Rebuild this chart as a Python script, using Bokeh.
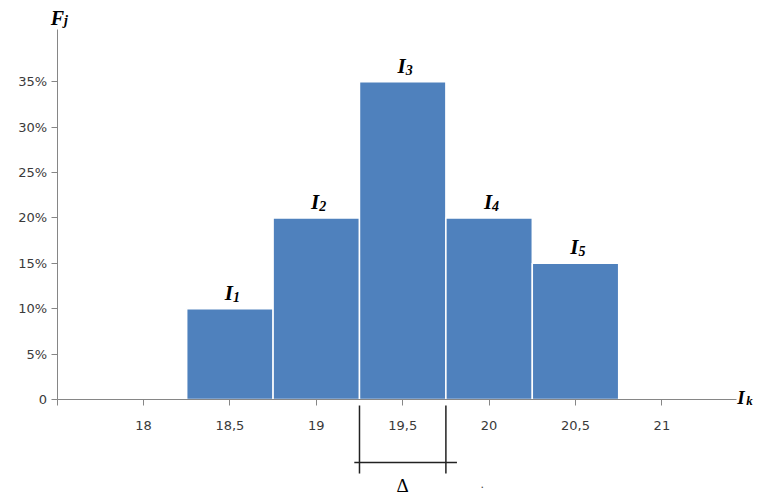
from bokeh.plotting import figure
from bokeh.models import ColumnDataSource, LinearAxis, FixedTicker, Range1d
from bokeh.core.properties import value
from bokeh.embed import file_html
from bokeh.resources import INLINE

# Histogram of relative frequencies F_j over the intervals I_1..I_5
interval_centers = [18.5, 19.0, 19.5, 20.0, 20.5]
frequencies = [0.10, 0.20, 0.35, 0.20, 0.15]
interval_names = ["I", "I", "I", "I", "I"]
interval_indices = ["1", "2", "3", "4", "5"]
bin_width = 0.5

x_ticks = [17.5, 18.0, 18.5, 19.0, 19.5, 20.0, 20.5, 21.0]
x_tick_labels = ["", "18", "18,5", "19", "19,5", "20", "20,5", "21"]
y_ticks = [0.0, 0.05, 0.10, 0.15, 0.20, 0.25, 0.30, 0.35]
y_tick_labels = ["0", "5%", "10%", "15%", "20%", "25%", "30%", "35%"]

# axis extents (the drawn axis lines)
x_axis_bounds = (17.5, 21.43)
y_axis_bounds = (0.0, 0.407)

AXIS_GREY = "#868686"
LABEL_GREY = "#3a3a3a"
BAR_BLUE = "#4F81BD"
SERIF = value("Liberation Serif")

p = figure(
    width=757, height=496,
    x_range=Range1d(17.1725, 21.5533),
    y_range=Range1d(-0.1068, 0.4394),
    x_axis_location=None, y_axis_location=None,
    min_border=0, outline_line_color=None,
    toolbar_location=None, output_backend="svg",
)
p.grid.visible = False
p.background_fill_color = "white"
p.border_fill_color = "white"

# axes crossing at (17.5, 0)
xaxis = LinearAxis(
    fixed_location=0.0, bounds=x_axis_bounds,
    ticker=FixedTicker(ticks=x_ticks),
    major_label_overrides={t: s for t, s in zip(x_ticks, x_tick_labels)},
)
yaxis = LinearAxis(
    fixed_location=x_ticks[0], bounds=y_axis_bounds,
    ticker=FixedTicker(ticks=y_ticks),
    major_label_overrides={t: s for t, s in zip(y_ticks, y_tick_labels)},
)
for ax in (xaxis, yaxis):
    ax.axis_line_color = AXIS_GREY
    ax.axis_line_width = 1
    ax.major_tick_line_color = AXIS_GREY
    ax.major_tick_in = 0
    ax.major_tick_out = 6
    ax.minor_tick_line_color = None
    ax.major_label_text_font = "DejaVu Sans"
    ax.major_label_text_font_size = "13px"
    ax.major_label_text_color = LABEL_GREY
xaxis.major_label_standoff = 15
yaxis.major_label_standoff = 4
p.add_layout(xaxis, "below")
p.add_layout(yaxis, "left")

# bars
bars = ColumnDataSource(dict(x=interval_centers, top=frequencies,
                             name=interval_names, idx=interval_indices))
p.vbar(x="x", top="top", bottom=0, width=bin_width, source=bars,
       fill_color=BAR_BLUE, line_color="white", line_width=1.5)

# interval labels I_j above each bar
p.text(x="x", y="top", text="name", source=bars,
       text_font=SERIF, text_font_style="bold italic", text_font_size="21px",
       text_color="black", text_align="right", text_baseline="alphabetic",
       x_offset=3, y_offset=-16)
p.text(x="x", y="top", text="idx", source=bars,
       text_font=SERIF, text_font_style="bold italic", text_font_size="14px",
       text_color="black", text_align="left", text_baseline="alphabetic",
       x_offset=3, y_offset=-12)

# axis titles F_j and I_k
p.text(x=[x_ticks[0]], y=[y_axis_bounds[1]], text=["F"],
       text_font=SERIF, text_font_style="bold italic", text_font_size="20px",
       text_color="black", text_align="right", text_baseline="alphabetic",
       x_offset=7, y_offset=-12)
p.text(x=[x_ticks[0]], y=[y_axis_bounds[1]], text=["j"],
       text_font=SERIF, text_font_style="bold italic", text_font_size="14px",
       text_color="black", text_align="left", text_baseline="alphabetic",
       x_offset=7, y_offset=-9)
p.text(x=[x_axis_bounds[1]], y=[0.0], text=["I"],
       text_font=SERIF, text_font_style="bold italic", text_font_size="19px",
       text_color="black", text_align="left", text_baseline="alphabetic",
       x_offset=1, y_offset=-2)
p.text(x=[x_axis_bounds[1]], y=[0.0], text=["k"],
       text_font=SERIF, text_font_style="bold italic", text_font_size="13px",
       text_color="black", text_align="left", text_baseline="alphabetic",
       x_offset=10, y_offset=1)

# bracket marking the interval width Δ under the middle bar
mid = interval_centers[2]
d_left, d_right = mid - bin_width / 2, mid + bin_width / 2
p.segment(x0=[d_left, d_right, d_left - 0.03],
          y0=[-0.0066, -0.0066, -0.0694],
          x1=[d_left, d_right, d_right + 0.064],
          y1=[-0.0815, -0.0815, -0.0694],
          line_color="#222222", line_width=1.5)
p.text(x=[mid], y=[0.0], text=["Δ"],
       text_font=SERIF, text_font_size="19px", text_color="black",
       text_align="center", text_baseline="middle", y_offset=86)
p.text(x=[19.96], y=[0.0], text=["."],
       text_font=SERIF, text_font_size="12px", text_color="#444444",
       text_align="center", text_baseline="middle", y_offset=84)

open("out.html", "w").write(file_html(p, INLINE))
